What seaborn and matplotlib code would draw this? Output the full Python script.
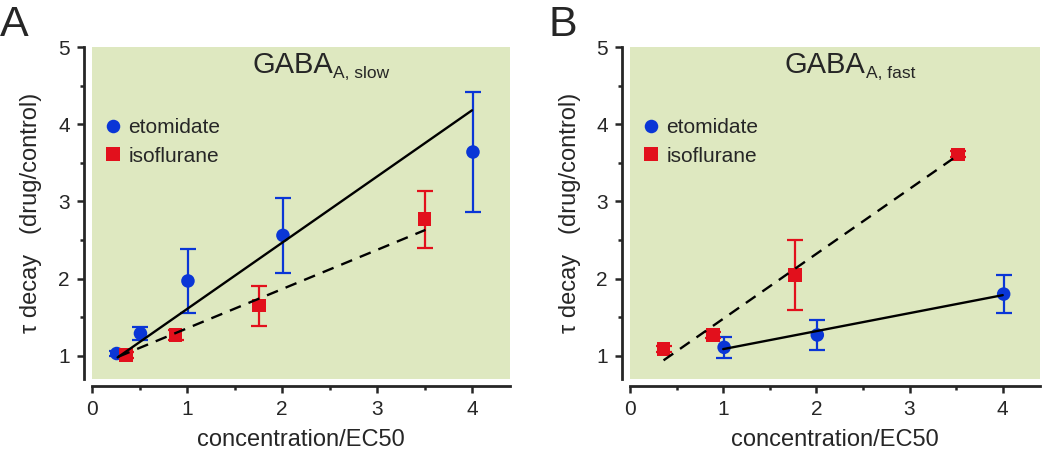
import numpy as np
import pandas as pd
import matplotlib
matplotlib.use("Agg")
import matplotlib.pyplot as plt
import seaborn as sns

# panel A: GABA_A, slow
a_eto_x = [0.26, 0.51, 1.01, 2.01, 4.01]
a_eto_y = [1.03, 1.29, 1.97, 2.56, 3.64]
a_eto_err = [0.03, 0.08, 0.41, 0.49, 0.78]
a_iso_x = [0.36, 0.88, 1.76, 3.50]
a_iso_y = [1.01, 1.27, 1.65, 2.77]
a_iso_err = [0.04, 0.06, 0.26, 0.37]
a_fit_eto = (0.858, 0.748, 0.27, 4.00)   # slope, intercept, x from, x to
a_fit_iso = (0.508, 0.848, 0.28, 3.51)

# panel B: GABA_A, fast
b_eto_x = [1.01, 2.01, 4.01]
b_eto_y = [1.11, 1.27, 1.80]
b_eto_err = [0.14, 0.20, 0.25]
b_iso_x = [0.36, 0.89, 1.77, 3.52]
b_iso_y = [1.09, 1.27, 2.05, 3.61]
b_iso_err = [0.04, 0.04, 0.45, 0.04]
b_fit_eto = (0.233, 0.854, 1.00, 4.00)
b_fit_iso = (0.841, 0.639, 0.36, 3.51)

drugs = ["etomidate", "isoflurane"]
x_ticks = [0, 1, 2, 3, 4]
y_ticks = [1, 2, 3, 4, 5]

BLUE = "#0a36d6"
RED = "#e2101c"
BG = "#dee8c0"

sns.set_style("ticks")
plt.rcParams["font.family"] = ["Liberation Sans", "DejaVu Sans"]

fig = plt.figure(figsize=(10.5, 4.53), dpi=100)
axA = fig.add_axes([92 / 1050, 74 / 453, 418 / 1050, 332 / 453])
axB = fig.add_axes([630 / 1050, 74 / 453, 410 / 1050, 332 / 453])


def panel(ax, ex, ey, ee, ix, iy, ie, fe, fi, sub, title_x):
    df = pd.DataFrame({
        "x": ex + ix,
        "y": ey + iy,
        "drug": [drugs[0]] * len(ex) + [drugs[1]] * len(ix),
    })
    ax.set_facecolor(BG)
    # error bars
    ax.errorbar(ex, ey, yerr=ee, fmt="none", ecolor=BLUE, elinewidth=1.6,
                capsize=5.5, capthick=1.6, zorder=2)
    ax.errorbar(ix, iy, yerr=ie, fmt="none", ecolor=RED, elinewidth=1.6,
                capsize=5.5, capthick=1.6, zorder=2)
    sns.scatterplot(data=df, x="x", y="y", hue="drug", style="drug",
                    palette={drugs[0]: BLUE, drugs[1]: RED},
                    markers={drugs[0]: "o", drugs[1]: "s"},
                    s=95, linewidth=0, ax=ax, zorder=3)
    # fitted lines
    for (m, b, x0, x1), ls in [(fe, "-"), (fi, (0, (5, 3.5)))]:
        xs = np.array([x0, x1])
        ax.plot(xs, m * xs + b, color="black", lw=1.7, ls=ls, zorder=4)

    ax.set_xlim(0, 4.4)
    ax.set_ylim(0.7, 5)
    ax.set_xticks(x_ticks)
    ax.set_xticks([0.5, 1.5, 2.5, 3.5], minor=True)
    ax.set_yticks(y_ticks)
    ax.set_yticks([1.5, 2.5, 3.5, 4.5], minor=True)
    ax.tick_params(which="major", length=5, width=1.8, labelsize=15, pad=5)
    ax.tick_params(which="minor", length=3, width=1.8)
    for s in ["top", "right"]:
        ax.spines[s].set_visible(False)
    ax.spines["left"].set_position(("outward", 6))
    ax.spines["bottom"].set_position(("outward", 5))
    for s in ["left", "bottom"]:
        ax.spines[s].set_linewidth(2.0)

    ax.set_xlabel("concentration/EC50", fontsize=17)
    ax.xaxis.set_label_coords(0.5, -0.15)
    ax.set_ylabel("τ decay   (drug/control)", fontsize=17)
    ax.yaxis.set_label_coords(-0.12, 0.5)

    t = ax.text(title_x, 0.921, "GABA", transform=ax.transAxes,
                ha="left", va="baseline", fontsize=21)
    ax.annotate("A, " + sub, xy=(1.0, 0.907), xycoords=(t, "axes fraction"),
                ha="left", va="baseline", fontsize=12.5)

    ax.legend(title=None, frameon=False, loc="upper left",
              bbox_to_anchor=(0.005, 0.81), fontsize=15, handlelength=1.0,
              handletextpad=0.25, borderaxespad=0, labelspacing=0.45)


panel(axA, a_eto_x, a_eto_y, a_eto_err, a_iso_x, a_iso_y, a_iso_err,
      a_fit_eto, a_fit_iso, "slow", 0.383)
panel(axB, b_eto_x, b_eto_y, b_eto_err, b_iso_x, b_iso_y, b_iso_err,
      b_fit_eto, b_fit_iso, "fast", 0.378)

fig.text(0.0, 0.99, "A", fontsize=31, ha="left", va="top")
fig.text(548 / 1050, 0.99, "B", fontsize=31, ha="left", va="top")

fig.savefig("out.png", dpi=100)
